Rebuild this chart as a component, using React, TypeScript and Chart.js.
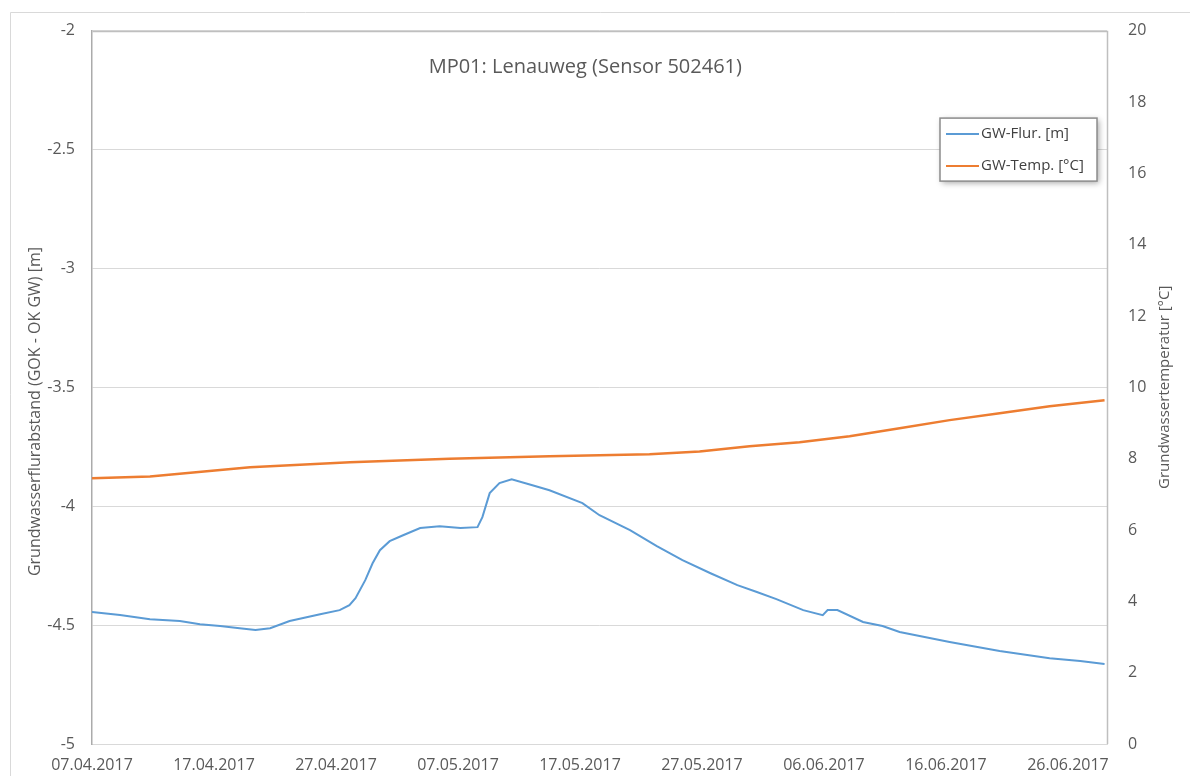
import React, { useEffect, useRef } from "react";
import { Chart, registerables } from "chart.js";

Chart.register(...registerables);

// ---------- data ----------
const chartTitle = "MP01: Lenauweg (Sensor 502461)";
const leftAxisTitle = "Grundwasserflurabstand (GOK - OK GW) [m]";
const rightAxisTitle = "Grundwassertemperatur [°C]";
const seriesNames = ["GW-Flur. [m]", "GW-Temp. [°C]"];

// day offsets are counted from 07.04.2017
const startYear = 2017;
const startMonth = 4;
const startDay = 7;
const xMinDay = 0;
const xMaxDay = 83.2;
const xTickDays = [0, 10, 20, 30, 40, 50, 60, 70, 80];

const leftMin = -5;
const leftMax = -2;
const leftStep = 0.5;
const rightMin = 0;
const rightMax = 20;
const rightStep = 2;

const flurDays = [
  0, 2.3, 4.75, 7.2, 8.85, 10.5, 12.1, 13.4, 14.6, 16.2, 18.7, 20.3, 21.1, 21.6,
  22.4, 23.0, 23.6, 24.4, 25.5, 26.9, 28.5, 30.2, 31.6, 32.0, 32.6, 33.4, 34.4,
  36.1, 37.5, 40.2, 41.6, 44.1, 46.3, 48.4, 50.7, 52.9, 54.5, 56.1, 58.3, 59.9,
  60.3, 61.1, 63.2, 64.8, 66.2, 70.3, 74.4, 78.5, 81.0, 83.0,
];
const flurValues = [
  -4.445, -4.458, -4.475, -4.483, -4.496, -4.504, -4.513, -4.521, -4.513, -4.483,
  -4.454, -4.437, -4.416, -4.387, -4.311, -4.24, -4.185, -4.147, -4.122, -4.092,
  -4.084, -4.092, -4.088, -4.046, -3.945, -3.903, -3.887, -3.912, -3.933, -3.987,
  -4.038, -4.101, -4.168, -4.227, -4.282, -4.332, -4.361, -4.391, -4.437, -4.458,
  -4.437, -4.437, -4.487, -4.504, -4.529, -4.571, -4.609, -4.639, -4.651, -4.664,
];

const tempDays = [0, 4.75, 12.95, 21.15, 29.3, 37.5, 45.7, 49.8, 53.9, 58.0, 62.1, 66.2, 70.3, 74.4, 78.5, 83.0];
const tempValues = [7.45, 7.5, 7.76, 7.9, 8.0, 8.07, 8.12, 8.2, 8.35, 8.46, 8.63, 8.85, 9.08, 9.27, 9.47, 9.64];

// ---------- helpers ----------
const FONT = "'Open Sans', 'DejaVu Sans', sans-serif";
const TEXT = "#595959";
const BLUE = "#5B9BD5";
const ORANGE = "#ED7D31";

function formatDay(offset: number): string {
  const d = new Date(Date.UTC(startYear, startMonth - 1, startDay + Math.round(offset)));
  const dd = String(d.getUTCDate()).padStart(2, "0");
  const mm = String(d.getUTCMonth() + 1).padStart(2, "0");
  return `${dd}.${mm}.${d.getUTCFullYear()}`;
}

const decorPlugin = {
  id: "decor",
  beforeDraw(chart: any) {
    const { ctx, width, height } = chart;
    ctx.save();
    ctx.fillStyle = "#ffffff";
    ctx.fillRect(0, 0, width, height);
    ctx.strokeStyle = "#D9D9D9";
    ctx.lineWidth = 1;
    ctx.beginPath();
    ctx.moveTo(10.5, height);
    ctx.lineTo(10.5, 12.5);
    ctx.lineTo(width, 12.5);
    ctx.stroke();
    ctx.restore();
  },
  beforeDatasetsDraw(chart: any) {
    const { ctx, chartArea: a } = chart;
    ctx.save();
    ctx.strokeStyle = "#BFBFBF";
    ctx.lineWidth = 1.5;
    ctx.beginPath();
    ctx.moveTo(Math.round(a.left) + 0.5, Math.round(a.top) + 0.5);
    ctx.lineTo(Math.round(a.right) + 0.5, Math.round(a.top) + 0.5);
    ctx.lineTo(Math.round(a.right) + 0.5, Math.round(a.bottom));
    ctx.stroke();
    ctx.restore();
  },
  afterDraw(chart: any) {
    const { ctx, chartArea: a } = chart;
    ctx.save();
    // title inside plot area
    ctx.fillStyle = TEXT;
    ctx.font = `20px ${FONT}`;
    ctx.textAlign = "center";
    ctx.textBaseline = "middle";
    ctx.fillText(chartTitle, a.left + (a.right - a.left) * 0.486, a.top + 37);

    // axis titles
    ctx.save();
    ctx.font = `16px ${FONT}`;
    ctx.translate(35, a.top + (a.bottom - a.top) * 0.534);
    ctx.rotate(-Math.PI / 2);
    ctx.fillText(leftAxisTitle, 0, 0);
    ctx.restore();
    ctx.save();
    ctx.font = `15px ${FONT}`;
    ctx.translate(1165, a.top + (a.bottom - a.top) * 0.5);
    ctx.rotate(-Math.PI / 2);
    ctx.fillText(rightAxisTitle, 0, 0);
    ctx.restore();

    // legend box
    const bx = a.right - 167;
    const by = a.top + 87.5;
    const bw = 157;
    const bh = 63;
    ctx.save();
    ctx.shadowColor = "rgba(0,0,0,0.35)";
    ctx.shadowBlur = 6;
    ctx.shadowOffsetX = 2;
    ctx.shadowOffsetY = 2;
    ctx.fillStyle = "#ffffff";
    ctx.fillRect(bx, by, bw, bh);
    ctx.restore();
    ctx.strokeStyle = "#8C8C8C";
    ctx.lineWidth = 1.5;
    ctx.strokeRect(bx, by, bw, bh);
    const colors = chart.data.datasets.map((d: any) => d.borderColor);
    const labels = chart.data.datasets.map((d: any) => d.label);
    ctx.textAlign = "left";
    ctx.font = `15px ${FONT}`;
    labels.forEach((lab: string, i: number) => {
      const ly = by + 16 + i * 32;
      ctx.strokeStyle = colors[i];
      ctx.lineWidth = 2;
      ctx.beginPath();
      ctx.moveTo(bx + 6, ly);
      ctx.lineTo(bx + 39, ly);
      ctx.stroke();
      ctx.fillStyle = "#404040";
      ctx.fillText(lab, bx + 41, ly);
    });
    ctx.restore();
  },
};

export default function App() {
  const ref = useRef<HTMLCanvasElement | null>(null);

  useEffect(() => {
    if (!ref.current) return;
    const chart = new Chart(ref.current, {
      type: "line",
      data: {
        datasets: [
          {
            label: seriesNames[0],
            data: flurDays.map((d, i) => ({ x: d, y: flurValues[i] })),
            borderColor: BLUE,
            backgroundColor: BLUE,
            borderWidth: 2,
            pointRadius: 0,
            tension: 0,
            yAxisID: "y",
          },
          {
            label: seriesNames[1],
            data: tempDays.map((d, i) => ({ x: d, y: tempValues[i] })),
            borderColor: ORANGE,
            backgroundColor: ORANGE,
            borderWidth: 2.5,
            pointRadius: 0,
            tension: 0,
            yAxisID: "y1",
          },
        ],
      },
      options: {
        responsive: false,
        animation: false,
        devicePixelRatio: 1,
        layout: { padding: { top: 30, left: 0, right: 0, bottom: 0 } },
        plugins: {
          legend: { display: false },
          title: { display: false },
          tooltip: { enabled: false },
        },
        scales: {
          x: {
            type: "linear",
            min: xMinDay,
            max: xMaxDay,
            afterBuildTicks: (s: any) => {
              s.ticks = xTickDays.map((v) => ({ value: v }));
            },
            afterFit: (s: any) => {
              s.height = 32;
            },
            grid: { display: false, drawTicks: false },
            border: { display: true, color: "#D9D9D9", width: 1 },
            ticks: {
              autoSkip: false,
              maxRotation: 0,
              padding: 12,
              color: TEXT,
              font: { family: FONT, size: 16 },
              callback: (v: any) => formatDay(Number(v)),
            },
          },
          y: {
            type: "linear",
            position: "left",
            min: leftMin,
            max: leftMax,
            afterFit: (s: any) => {
              s.width = 92;
            },
            grid: { color: "#D9D9D9", lineWidth: 1, drawTicks: false },
            border: { display: true, color: "#ABABAB", width: 1.5 },
            ticks: {
              stepSize: leftStep,
              padding: 17,
              color: TEXT,
              font: { family: FONT, size: 16 },
              callback: (v: any) => String(Math.round(Number(v) * 10) / 10),
            },
          },
          y1: {
            type: "linear",
            position: "right",
            min: rightMin,
            max: rightMax,
            afterFit: (s: any) => {
              s.width = 83;
            },
            grid: { display: false, drawTicks: false },
            border: { display: false },
            ticks: {
              stepSize: rightStep,
              padding: 21,
              color: TEXT,
              font: { family: FONT, size: 16 },
            },
          },
        },
      },
      plugins: [decorPlugin],
    });
    return () => chart.destroy();
  }, []);

  return (
    <div style={{ position: "fixed", left: 0, top: 0, width: 1190, height: 776, background: "#fff" }}>
      <canvas ref={ref} width={1190} height={776} style={{ display: "block" }} />
    </div>
  );
}
